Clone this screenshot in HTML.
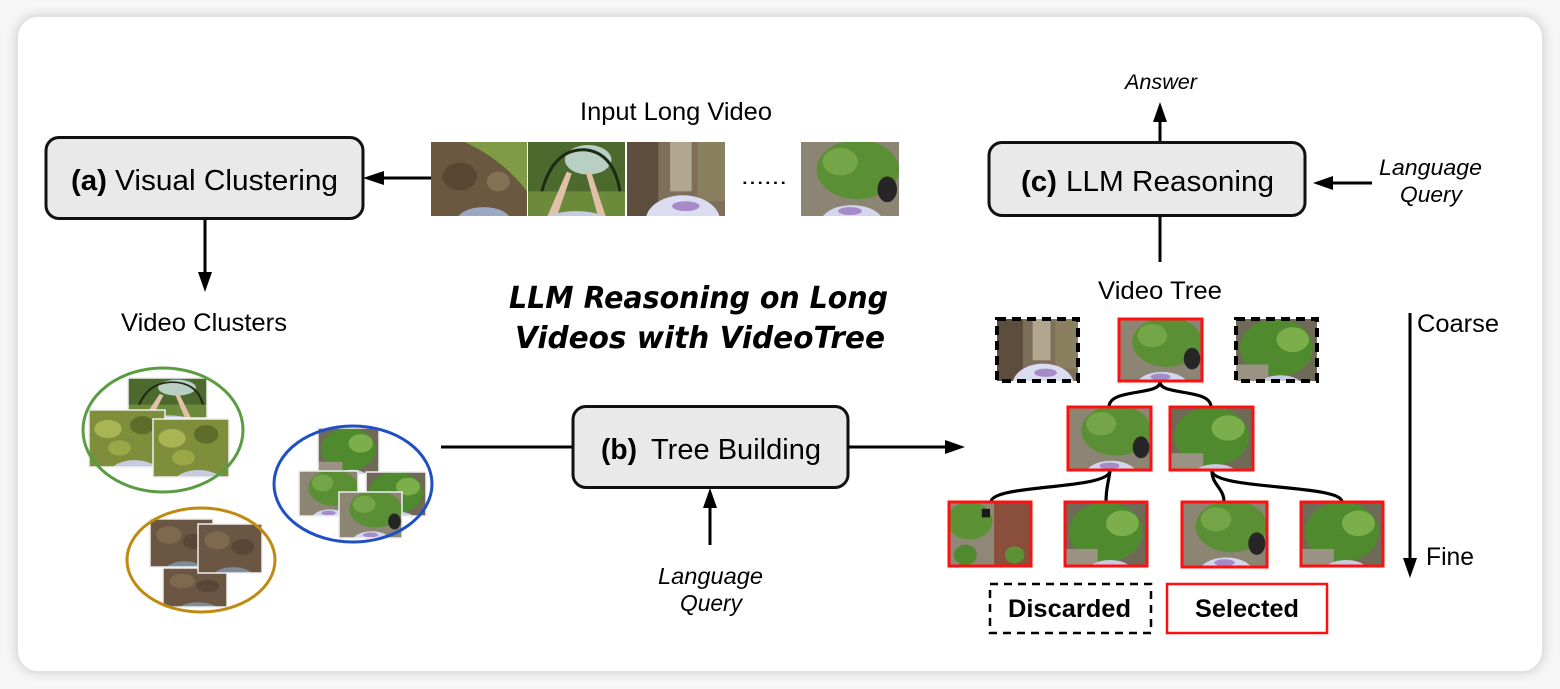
<!DOCTYPE html>
<html>
<head>
<meta charset="utf-8">
<style>
  html,body{margin:0;padding:0;background:#f6f6f6;}
  body{width:1560px;height:689px;overflow:hidden;position:relative;}
  .card{position:absolute;left:18px;top:17px;width:1524px;height:654px;background:#fff;border-radius:20px;box-shadow:0 0 10px 3px rgba(0,0,0,0.13);}
  svg{position:absolute;left:0;top:0;}
  text{font-family:"Liberation Sans",Arial,sans-serif;fill:#000;}
</style>
</head>
<body>
<div class="card"></div>
<svg width="1560" height="689" viewBox="0 0 1560 689" xmlns="http://www.w3.org/2000/svg">
  <defs>
    <symbol id="leaves" viewBox="0 0 100 75" preserveAspectRatio="none">
      <rect width="100" height="75" fill="#6b5840"/>
      <path d="M35,0 L100,0 L100,50 Q75,18 35,0Z" fill="#7f9b45"/>
      <ellipse cx="30" cy="35" rx="18" ry="14" fill="#5a4632"/>
      <ellipse cx="70" cy="40" rx="12" ry="10" fill="#857054"/>
      <ellipse cx="55" cy="80" rx="28" ry="14" fill="#9aa8c4"/>
    </symbol>
    <symbol id="arch" viewBox="0 0 100 75" preserveAspectRatio="none">
      <rect width="100" height="75" fill="#4d6a2e"/>
      <ellipse cx="62" cy="18" rx="24" ry="15" fill="#b8cfc3"/>
      <path d="M10,70 Q20,5 60,8 Q92,12 96,60" fill="none" stroke="#1e2a14" stroke-width="3"/>
      <rect x="0" y="50" width="100" height="25" fill="#6b8a3a"/>
      <path d="M20,75 L40,30 L45,32 L30,75Z" fill="#e0c0a8"/>
      <path d="M80,75 L65,30 L60,32 L72,75Z" fill="#e0c0a8"/>
      <ellipse cx="50" cy="82" rx="34" ry="12" fill="#c3cde2"/>
    </symbol>
    <symbol id="stairs" viewBox="0 0 100 75" preserveAspectRatio="none">
      <rect width="100" height="75" fill="#7d6f5a"/>
      <rect x="0" y="0" width="32" height="75" fill="#5d4d3d"/>
      <rect x="44" y="0" width="22" height="50" fill="#b1a68f"/>
      <rect x="72" y="0" width="28" height="60" fill="#8a8060"/>
      <ellipse cx="57" cy="80" rx="38" ry="26" fill="#dcdcf0"/>
      <ellipse cx="60" cy="65" rx="14" ry="5" fill="#a78bc8"/>
    </symbol>
    <symbol id="plant" viewBox="0 0 100 75" preserveAspectRatio="none">
      <rect width="100" height="75" fill="#8c8574"/>
      <ellipse cx="58" cy="28" rx="42" ry="30" fill="#5b8f35"/>
      <ellipse cx="40" cy="20" rx="18" ry="14" fill="#74a648"/>
      <ellipse cx="88" cy="48" rx="10" ry="13" fill="#262626"/>
      <ellipse cx="52" cy="82" rx="32" ry="18" fill="#d3d6ec"/>
      <ellipse cx="50" cy="70" rx="12" ry="4" fill="#a48cc8"/>
    </symbol>
    <symbol id="plant2" viewBox="0 0 100 75" preserveAspectRatio="none">
      <rect width="100" height="75" fill="#6f6a58"/>
      <ellipse cx="50" cy="35" rx="45" ry="35" fill="#4f8a2e"/>
      <ellipse cx="70" cy="25" rx="20" ry="15" fill="#7cae4c"/>
      <rect x="0" y="55" width="40" height="20" fill="#9a9282"/>
      <ellipse cx="55" cy="80" rx="26" ry="12" fill="#c9cde4"/>
    </symbol>
    <symbol id="brick" viewBox="0 0 100 75" preserveAspectRatio="none">
      <rect width="100" height="75" fill="#8f8878"/>
      <rect x="55" y="0" width="45" height="75" fill="#8a4e3c"/>
      <ellipse cx="25" cy="22" rx="28" ry="22" fill="#5c9234"/>
      <ellipse cx="20" cy="62" rx="14" ry="12" fill="#4f8a2e"/>
      <ellipse cx="80" cy="62" rx="12" ry="10" fill="#5c9234"/>
      <rect x="40" y="8" width="10" height="10" fill="#1a1a1a"/>
    </symbol>
    <symbol id="moss" viewBox="0 0 100 75" preserveAspectRatio="none">
      <rect width="100" height="75" fill="#7e8e3a"/>
      <ellipse cx="25" cy="25" rx="18" ry="12" fill="#a9b454"/>
      <ellipse cx="70" cy="20" rx="16" ry="12" fill="#5e6e2a"/>
      <ellipse cx="40" cy="50" rx="15" ry="10" fill="#9aa848"/>
      <ellipse cx="60" cy="82" rx="32" ry="16" fill="#c7cbe0"/>
    </symbol>
    <symbol id="dirt" viewBox="0 0 100 75" preserveAspectRatio="none">
      <rect width="100" height="75" fill="#6b5644"/>
      <ellipse cx="30" cy="25" rx="20" ry="14" fill="#80684f"/>
      <ellipse cx="70" cy="35" rx="18" ry="12" fill="#5a4636"/>
      <ellipse cx="55" cy="82" rx="32" ry="16" fill="#7d8c98"/>
    </symbol>
  </defs>

  <!-- (a) Visual Clustering box -->
  <rect x="46" y="137.5" width="317" height="81" rx="13" fill="#e9e9e9" stroke="#111" stroke-width="3"/>
  <text x="71" y="190" font-size="29" font-weight="bold" textLength="36" lengthAdjust="spacingAndGlyphs">(a)</text>
  <text x="115" y="190" font-size="29" textLength="223" lengthAdjust="spacingAndGlyphs">Visual Clustering</text>

  <!-- arrow into (a) -->
  <line x1="380" y1="178" x2="431" y2="178" stroke="#000" stroke-width="3"/>
  <polygon points="363,178 384,171 384,185" fill="#000"/>
  <!-- arrow down from (a) -->
  <line x1="205" y1="219" x2="205" y2="275" stroke="#000" stroke-width="3"/>
  <polygon points="205,292 198,272 212,272" fill="#000"/>
  <text x="121" y="331" font-size="25" textLength="166" lengthAdjust="spacingAndGlyphs">Video Clusters</text>

  <!-- Input long video -->
  <text x="580" y="120" font-size="25" textLength="192" lengthAdjust="spacingAndGlyphs">Input Long Video</text>
  <use href="#leaves" x="431" y="142" width="96" height="74"/>
  <use href="#arch" x="528" y="142" width="97" height="74"/>
  <use href="#stairs" x="627" y="142" width="98" height="74"/>
  <text x="741" y="184" font-size="22" textLength="46" lengthAdjust="spacingAndGlyphs">......</text>
  <use href="#plant" x="801" y="142" width="98" height="74"/>

  <!-- Title -->
  <text x="509" y="308" font-size="30" font-weight="bold" font-style="italic" style="font-family:'DejaVu Sans','Liberation Sans',sans-serif" textLength="379" lengthAdjust="spacingAndGlyphs">LLM Reasoning on Long</text>
  <text x="515" y="348" font-size="30" font-weight="bold" font-style="italic" style="font-family:'DejaVu Sans','Liberation Sans',sans-serif" textLength="370" lengthAdjust="spacingAndGlyphs">Videos with VideoTree</text>

  <!-- Clusters: green -->
  <use href="#arch" x="128" y="378" width="79" height="40"/>
  <rect x="128" y="378" width="79" height="40" fill="none" stroke="#eeeeee" stroke-width="1.5"/>
  <use href="#moss" x="89" y="410" width="76" height="57"/>
  <rect x="89" y="410" width="76" height="57" fill="none" stroke="#eeeeee" stroke-width="1.5"/>
  <use href="#moss" x="153" y="419" width="76" height="58"/>
  <rect x="153" y="419" width="76" height="58" fill="none" stroke="#eeeeee" stroke-width="1.5"/>
  <ellipse cx="163" cy="430" rx="80" ry="62" fill="none" stroke="#5a9c42" stroke-width="3"/>

  <!-- Clusters: blue -->
  <use href="#plant2" x="318" y="428" width="61" height="46"/>
  <rect x="318" y="428" width="61" height="46" fill="none" stroke="#eeeeee" stroke-width="1.5"/>
  <use href="#plant" x="299" y="471" width="59" height="45"/>
  <rect x="299" y="471" width="59" height="45" fill="none" stroke="#eeeeee" stroke-width="1.5"/>
  <use href="#plant2" x="366" y="472" width="60" height="44"/>
  <rect x="366" y="472" width="60" height="44" fill="none" stroke="#eeeeee" stroke-width="1.5"/>
  <use href="#plant" x="339" y="492" width="63" height="46"/>
  <rect x="339" y="492" width="63" height="46" fill="none" stroke="#eeeeee" stroke-width="1.5"/>
  <ellipse cx="353" cy="484" rx="79" ry="58" fill="none" stroke="#1f4fc4" stroke-width="3"/>

  <!-- Clusters: gold -->
  <use href="#dirt" x="150" y="519" width="63" height="48"/>
  <rect x="150" y="519" width="63" height="48" fill="none" stroke="#eeeeee" stroke-width="1.5"/>
  <use href="#dirt" x="163" y="568" width="64" height="39"/>
  <rect x="163" y="568" width="64" height="39" fill="none" stroke="#eeeeee" stroke-width="1.5"/>
  <use href="#dirt" x="198" y="524" width="64" height="49"/>
  <rect x="198" y="524" width="64" height="49" fill="none" stroke="#eeeeee" stroke-width="1.5"/>
  <ellipse cx="201" cy="560" rx="74" ry="52" fill="none" stroke="#bf8a12" stroke-width="3"/>

  <!-- (b) Tree Building -->
  <line x1="441" y1="447" x2="573" y2="447" stroke="#000" stroke-width="3"/>
  <rect x="573" y="406.5" width="275" height="81" rx="13" fill="#e9e9e9" stroke="#111" stroke-width="3"/>
  <text x="601" y="459" font-size="29" font-weight="bold" textLength="36" lengthAdjust="spacingAndGlyphs">(b)</text>
  <text x="651" y="459" font-size="29" textLength="170" lengthAdjust="spacingAndGlyphs">Tree Building</text>
  <line x1="849" y1="447" x2="948" y2="447" stroke="#000" stroke-width="3"/>
  <polygon points="965,447 945,440 945,454" fill="#000"/>
  <line x1="710" y1="545" x2="710" y2="505" stroke="#000" stroke-width="3"/>
  <polygon points="710,488 703,508 717,508" fill="#000"/>
  <text x="658" y="584" font-size="23" font-style="italic" textLength="105" lengthAdjust="spacingAndGlyphs">Language</text>
  <text x="680" y="611" font-size="23" font-style="italic" textLength="62" lengthAdjust="spacingAndGlyphs">Query</text>

  <!-- (c) LLM Reasoning -->
  <text x="1125" y="89" font-size="21" font-style="italic" textLength="72" lengthAdjust="spacingAndGlyphs">Answer</text>
  <line x1="1160" y1="142" x2="1160" y2="119" stroke="#000" stroke-width="3"/>
  <polygon points="1160,102 1153,122 1167,122" fill="#000"/>
  <rect x="989" y="142.5" width="316" height="73" rx="13" fill="#e9e9e9" stroke="#111" stroke-width="3"/>
  <text x="1021" y="191" font-size="29" font-weight="bold" textLength="36" lengthAdjust="spacingAndGlyphs">(c)</text>
  <text x="1066" y="191" font-size="29" textLength="208" lengthAdjust="spacingAndGlyphs">LLM Reasoning</text>
  <line x1="1330" y1="183" x2="1372" y2="183" stroke="#000" stroke-width="3"/>
  <polygon points="1313,183 1333,176 1333,190" fill="#000"/>
  <text x="1379" y="175" font-size="22" font-style="italic" textLength="103" lengthAdjust="spacingAndGlyphs">Language</text>
  <text x="1400" y="202" font-size="22" font-style="italic" textLength="62" lengthAdjust="spacingAndGlyphs">Query</text>
  <line x1="1160" y1="216" x2="1160" y2="262" stroke="#000" stroke-width="3"/>

  <!-- Video tree -->
  <text x="1098" y="299" font-size="25" textLength="124" lengthAdjust="spacingAndGlyphs">Video Tree</text>

  <!-- connectors -->
  <g fill="none" stroke="#000" stroke-width="3.2">
    <path d="M1160,382 C1160,396 1109,388 1109,407"/>
    <path d="M1160,382 C1160,396 1211,388 1211,407"/>
    <path d="M1110,471 C1108,490 991,484 991,502"/>
    <path d="M1110,471 C1108,485 1106,488 1106,502"/>
    <path d="M1212,471 C1212,485 1224,488 1224,502"/>
    <path d="M1212,471 C1214,490 1342,484 1342,502"/>
  </g>

  <!-- top row -->
  <use href="#stairs" x="997" y="319" width="81" height="62"/>
  <rect x="997" y="319" width="81" height="62" fill="none" stroke="#000" stroke-width="4" stroke-dasharray="9,6"/>
  <use href="#plant" x="1119" y="319" width="83" height="62"/>
  <rect x="1119" y="319" width="83" height="62" fill="none" stroke="#ff1010" stroke-width="3"/>
  <use href="#plant2" x="1236" y="319" width="81" height="62"/>
  <rect x="1236" y="319" width="81" height="62" fill="none" stroke="#000" stroke-width="4" stroke-dasharray="9,6"/>

  <!-- middle row -->
  <use href="#plant" x="1068" y="407" width="83" height="63"/>
  <rect x="1068" y="407" width="83" height="63" fill="none" stroke="#ff1010" stroke-width="3"/>
  <use href="#plant2" x="1170" y="407" width="83" height="63"/>
  <rect x="1170" y="407" width="83" height="63" fill="none" stroke="#ff1010" stroke-width="3"/>

  <!-- bottom row -->
  <use href="#brick" x="949" y="502" width="82" height="64"/>
  <rect x="949" y="502" width="82" height="64" fill="none" stroke="#ff1010" stroke-width="3"/>
  <use href="#plant2" x="1065" y="502" width="82" height="64"/>
  <rect x="1065" y="502" width="82" height="64" fill="none" stroke="#ff1010" stroke-width="3"/>
  <use href="#plant" x="1182" y="502" width="85" height="65"/>
  <rect x="1182" y="502" width="85" height="65" fill="none" stroke="#ff1010" stroke-width="3"/>
  <use href="#plant2" x="1301" y="502" width="82" height="64"/>
  <rect x="1301" y="502" width="82" height="64" fill="none" stroke="#ff1010" stroke-width="3"/>

  <!-- coarse/fine -->
  <line x1="1410" y1="313" x2="1410" y2="562" stroke="#000" stroke-width="3"/>
  <polygon points="1410,578 1403,558 1417,558" fill="#000"/>
  <text x="1417" y="332" font-size="25" textLength="82" lengthAdjust="spacingAndGlyphs">Coarse</text>
  <text x="1426" y="565" font-size="25" textLength="48" lengthAdjust="spacingAndGlyphs">Fine</text>

  <!-- legend -->
  <rect x="990" y="584" width="161" height="49" fill="none" stroke="#000" stroke-width="2.5" stroke-dasharray="8,6"/>
  <text x="1008" y="617" font-size="25" font-weight="bold" textLength="123" lengthAdjust="spacingAndGlyphs">Discarded</text>
  <rect x="1167" y="584" width="160" height="49" fill="none" stroke="#ff1010" stroke-width="2.5"/>
  <text x="1195" y="617" font-size="25" font-weight="bold" textLength="104" lengthAdjust="spacingAndGlyphs">Selected</text>
</svg>
</body>
</html>
